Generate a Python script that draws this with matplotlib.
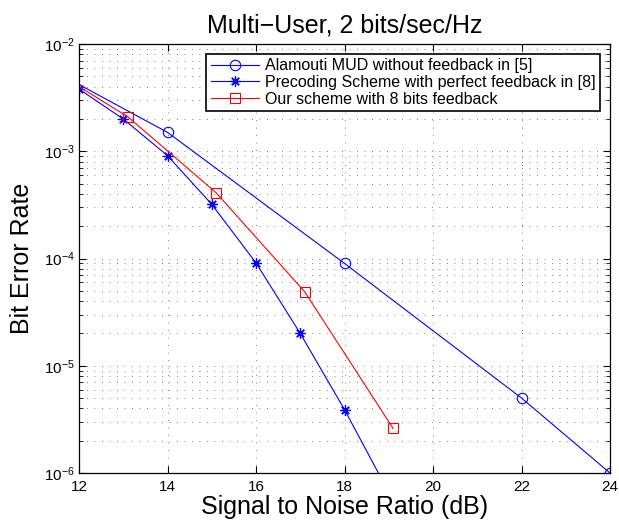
import matplotlib.pyplot as plt
import numpy as np
from matplotlib.ticker import LogLocator, NullFormatter

plt.rcParams['font.family'] = ['Liberation Sans', 'DejaVu Sans']

# points outside the visible range are clipped by the axes, like the original
snr_alamouti = [10, 14, 18, 22, 24]
ber_alamouti = [1.17e-2, 1.5e-3, 9e-5, 5e-6, 1e-6]

snr_precoding = [12, 13, 14, 15, 16, 17, 18, 19]
ber_precoding = [3.8e-3, 2.0e-3, 9.1e-4, 3.2e-4, 9.1e-5, 2.0e-5, 3.9e-6, 6.6e-7]

snr_ours = [11.1, 13.1, 15.1, 17.1, 19.1]
ber_ours = [6.8e-3, 2.1e-3, 4.1e-4, 4.9e-5, 2.6e-6]

labels = ["Alamouti MUD without feedback in [5]",
          "Precoding Scheme with perfect feedback in [8]",
          "Our scheme with 8 bits feedback"]

fig = plt.figure(figsize=(6.19, 5.27), dpi=100)
ax = fig.add_axes([79 / 619, 1 - 473 / 527, 531 / 619, 429 / 527])

ax.semilogy(snr_alamouti, ber_alamouti, '-o', color='b', lw=0.8, markersize=7.5,
            markerfacecolor='none', markeredgecolor='b', markeredgewidth=0.8, label=labels[0])
ax.semilogy(snr_precoding, ber_precoding, '-', marker=(8, 2, 0), color='b', lw=0.8,
            markersize=7.5, markeredgewidth=0.9, label=labels[1])
ax.semilogy(snr_ours, ber_ours, '-s', color='r', lw=0.8, markersize=6.5,
            markerfacecolor='none', markeredgecolor='r', markeredgewidth=0.8, label=labels[2])

ax.set_xlim(12, 24)
ax.set_ylim(1e-6, 1e-2)
ax.set_xticks(np.arange(12, 25, 2))
ax.yaxis.set_major_locator(LogLocator(base=10, numticks=10))
ax.yaxis.set_minor_locator(LogLocator(base=10, subs=np.arange(2, 10), numticks=20))
ax.yaxis.set_minor_formatter(NullFormatter())

ax.grid(True, which='major', linestyle=(0, (1, 8)), color='0.35', lw=0.6)
ax.grid(True, which='minor', axis='y', linestyle=(0, (1, 8)), color='0.35', lw=0.6)
ax.tick_params(which='both', direction='in', top=True, right=True, labelsize=11)
ax.tick_params(which='major', length=5)
ax.tick_params(which='minor', length=3)
ax.tick_params(axis='x', pad=5)
ax.tick_params(axis='y', pad=3)
for s in ax.spines.values():
    s.set_linewidth(0.9)

ax.set_title("Multi\u2212User, 2 bits/sec/Hz", fontsize=18, pad=8)
ax.set_xlabel("Signal to Noise Ratio (dB)", fontsize=18, labelpad=1)
ax.set_ylabel("Bit Error Rate", fontsize=18, labelpad=7)

leg = ax.legend(loc='upper right', fontsize=11.5, fancybox=False, framealpha=1,
                edgecolor='k', borderaxespad=0.6, handlelength=3.0,
                labelspacing=0.1, borderpad=0.3, handletextpad=0.4)
leg.get_frame().set_linewidth(1.2)

fig.savefig("out.png", dpi=100)
